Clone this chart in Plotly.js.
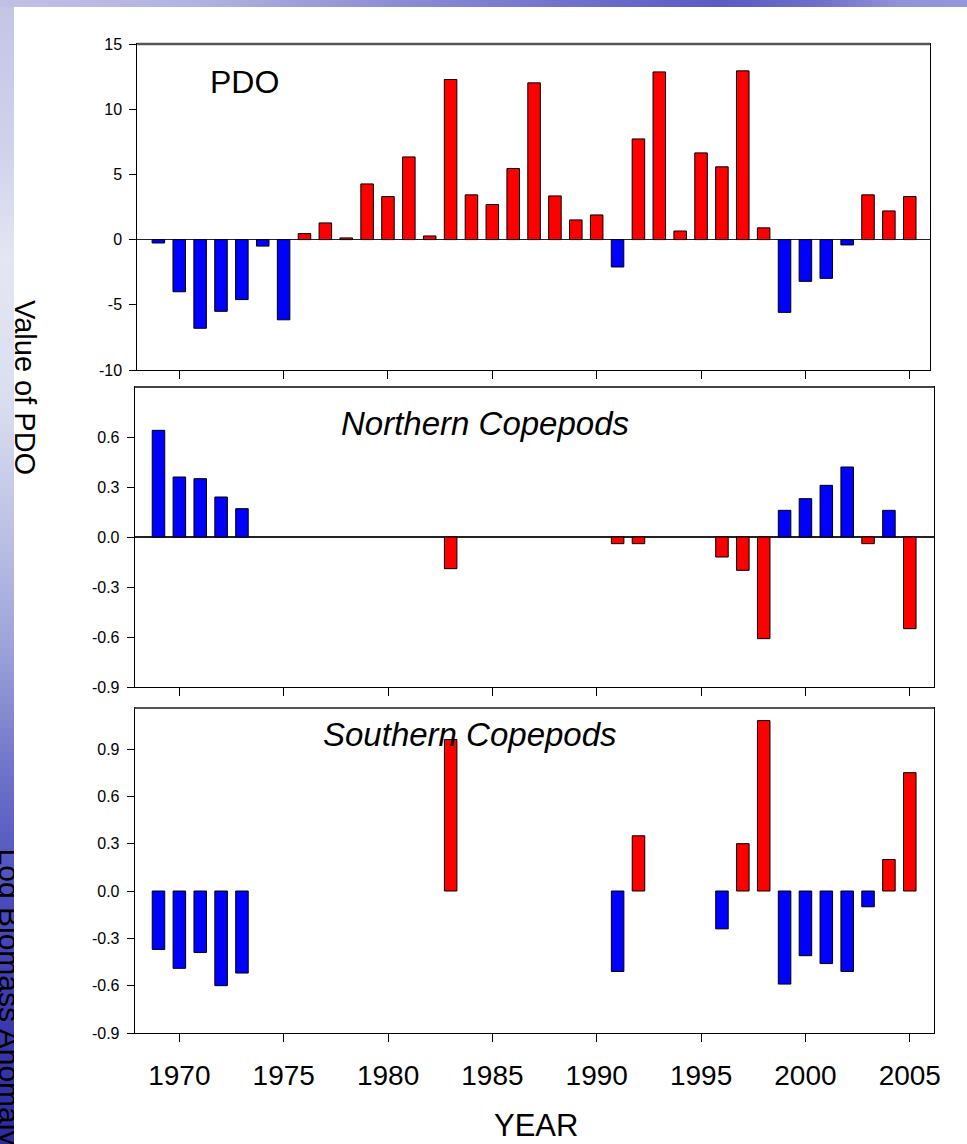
<!DOCTYPE html>
<html><head><meta charset="utf-8">
<script src="https://cdn.plot.ly/plotly-3.0.1.min.js"></script>
<style>html,body{margin:0;padding:0;background:#fff;overflow:hidden}#chart{width:967px;height:1144px}</style>
</head><body><div id="chart"></div>
<script>
// ---- data ----
const years = [1969,1970,1971,1972,1973,1974,1975,1976,1977,1978,1979,1980,1981,1982,1983,1984,1985,1986,1987,1988,1989,1990,1991,1992,1993,1994,1995,1996,1997,1998,1999,2000,2001,2002,2003,2004,2005];
const pdo = [-0.26,-4.0,-6.8,-5.5,-4.6,-0.5,-6.15,0.46,1.28,0.13,4.27,3.3,6.34,0.28,12.28,3.43,2.69,5.45,12.02,3.35,1.51,1.89,-2.1,7.72,12.86,0.66,6.65,5.58,12.94,0.9,-5.58,-3.2,-2.97,-0.41,3.43,2.2,3.3];
const northern = [0.64,0.36,0.35,0.24,0.17,null,null,null,null,null,null,null,null,null,-0.19,null,null,null,null,null,null,null,-0.04,-0.04,null,null,null,-0.12,-0.2,-0.61,0.16,0.23,0.31,0.42,-0.04,0.16,-0.55];
const southern = [-0.37,-0.49,-0.39,-0.6,-0.52,null,null,null,null,null,null,null,null,null,0.96,null,null,null,null,null,null,null,-0.51,0.35,null,null,null,-0.24,0.3,1.08,-0.59,-0.41,-0.46,-0.51,-0.1,0.2,0.75];
const xTickVals = [1970,1975,1980,1985,1990,1995,2000,2005];
const xTickText = ['1970','1975','1980','1985','1990','1995','2000','2005'];
const pdoTickVals = [-10,-5,0,5,10,15];
const pdoTickText = ['-10','-5','0','5','10','15'];
const northTickVals = [-0.9,-0.6,-0.3,0,0.3,0.6];
const northTickText = ['-0.9','-0.6','-0.3','0.0','0.3','0.6'];
const southTickVals = [-0.9,-0.6,-0.3,0,0.3,0.6,0.9];
const southTickText = ['-0.9','-0.6','-0.3','0.0','0.3','0.6','0.9'];

// ---- styling helpers ----
const W = 967, H = 1144;
const px = v => v / W;
const py = v => 1 - v / H;
const RED = '#ff0000', BLUE = '#0000ff';
const FONT = 'Liberation Sans, Arial, sans-serif';

function bar(y, xa, ya, posColor, negColor) {
  return {
    type: 'bar', x: years, y: y, xaxis: xa, yaxis: ya, width: 0.6,
    marker: { color: y.map(v => (v === null ? BLUE : (v >= 0 ? posColor : negColor))),
              line: { color: '#000', width: 1 } },
    hoverinfo: 'x+y', showlegend: false
  };
}
const traces = [
  bar(pdo, 'x', 'y', RED, BLUE),
  bar(northern, 'x2', 'y2', BLUE, RED),
  bar(southern, 'x3', 'y3', RED, BLUE)
];

function xAxis(dom, rng, anchor, labels) {
  return {
    domain: dom, range: rng, anchor: anchor, tickmode: 'array', tickvals: xTickVals, ticktext: xTickText,
    showticklabels: labels, ticks: 'outside', ticklen: 8, tickwidth: 1, tickcolor: '#000',
    showline: true, linecolor: '#000', linewidth: 1, mirror: true, showgrid: false, zeroline: false,
    ticklabelstandoff: 9,
    tickfont: { family: FONT, size: 28, color: '#000' }, fixedrange: true
  };
}
function yAxis(dom, rng, anchor, tv, tt, zl) {
  return {
    domain: dom, range: rng, anchor: anchor, tickmode: 'array', tickvals: tv, ticktext: tt,
    ticks: 'outside', ticklen: 7, tickwidth: 1, tickcolor: '#000',
    showline: true, linecolor: '#000', linewidth: 1, mirror: true, showgrid: false,
    zeroline: zl, zerolinecolor: '#222', zerolinewidth: 1.5,
    ticklabelstandoff: 4,
    tickfont: { family: FONT, size: 16, color: '#000' }, fixedrange: true
  };
}

// background slide decoration (gradient strips)
function lerpColor(stops, t) {
  for (let i = 0; i < stops.length - 1; i++) {
    const [a, ca] = stops[i], [b, cb] = stops[i + 1];
    if (t >= a && t <= b) {
      const f = (t - a) / (b - a);
      const c = ca.map((v, k) => Math.round(v + (cb[k] - v) * f));
      return `rgb(${c[0]},${c[1]},${c[2]})`;
    }
  }
  const c = stops[stops.length - 1][1];
  return `rgb(${c[0]},${c[1]},${c[2]})`;
}
const leftStops = [[0,[196,196,230]],[150,[208,210,236]],[260,[228,230,242]],[400,[218,222,240]],[550,[184,189,226]],[650,[156,162,216]],[780,[108,112,200]],[900,[74,76,188]],[1000,[60,60,176]],[1144,[42,42,160]]];
const topStops = [[0,[192,192,230]],[200,[178,178,224]],[400,[140,140,212]],[600,[108,108,204]],[720,[90,90,194]],[820,[112,112,202]],[900,[146,146,216]],[967,[150,150,220]]];
const shapes = [];
const STEP = 8;
for (let y = 0; y < H; y += STEP) {
  shapes.push({ type: 'rect', xref: 'paper', yref: 'paper', layer: 'below', x0: 0, x1: px(14), y0: py(Math.min(H, y + STEP)), y1: py(y), fillcolor: lerpColor(leftStops, y + STEP / 2), line: { width: 0 } });
}
for (let x = 0; x < W; x += STEP) {
  shapes.push({ type: 'rect', xref: 'paper', yref: 'paper', layer: 'below', x0: px(x), x1: px(Math.min(W, x + STEP)), y0: py(7), y1: 1, fillcolor: lerpColor(topStops, x + STEP / 2), line: { width: 0 } });
}
// partially hidden slide text
shapes.push({ type: 'rect', xref: 'paper', yref: 'paper', layer: 'below', x0: px(0), x1: px(24), y0: py(1158), y1: py(836), fillcolor: 'rgba(0,0,0,0)', line: { width: 0 },
  label: { text: 'Log Biomass Anomaly', textangle: 90, textposition: 'middle center', font: { family: FONT, size: 30, color: '#000' } } });
// white slide area covering the rest
shapes.push({ type: 'rect', xref: 'paper', yref: 'paper', layer: 'below', x0: px(14), x1: 1, y0: 0, y1: py(7), fillcolor: '#ffffff', line: { width: 0 } });
// slightly heavier grey top frame lines of each panel
shapes.push({ type: 'line', xref: 'paper', yref: 'paper', layer: 'above', x0: px(137.3), x1: px(930), y0: py(44), y1: py(44), line: { color: '#555', width: 2.5 } });
shapes.push({ type: 'line', xref: 'paper', yref: 'paper', layer: 'above', x0: px(134.7), x1: px(934), y0: py(387), y1: py(387), line: { color: '#444', width: 1.8 } });
shapes.push({ type: 'line', xref: 'paper', yref: 'paper', layer: 'above', x0: px(134.7), x1: px(934), y0: py(708), y1: py(708), line: { color: '#555', width: 1.8 } });

const annotations = [
  { text: 'PDO', xref: 'paper', yref: 'paper', x: px(244), y: py(82), xanchor: 'center', yanchor: 'middle', showarrow: false, font: { family: FONT, size: 32, color: '#000' } },
  { text: '<i>Northern Copepods</i>', xref: 'paper', yref: 'paper', x: px(485), y: py(423), xanchor: 'center', yanchor: 'middle', showarrow: false, font: { family: FONT, size: 33, color: '#000' } },
  { text: '<i>Southern Copepods</i>', xref: 'paper', yref: 'paper', x: px(470), y: py(734), xanchor: 'center', yanchor: 'middle', showarrow: false, font: { family: FONT, size: 33, color: '#000' } },
  { text: 'YEAR', xref: 'paper', yref: 'paper', x: px(536), y: py(1125), xanchor: 'center', yanchor: 'middle', showarrow: false, font: { family: FONT, size: 31, color: '#000' } },
  { text: 'Value of PDO', xref: 'paper', yref: 'paper', x: px(25), y: py(387), xanchor: 'center', yanchor: 'middle', textangle: 90, showarrow: false, font: { family: FONT, size: 29, color: '#000' } }
];

const layout = {
  width: W, height: H, margin: { l: 0, r: 0, t: 0, b: 0 },
  paper_bgcolor: '#ffffff', plot_bgcolor: '#ffffff',
  font: { family: FONT, color: '#000' },
  xaxis: xAxis([px(137.3), px(930)], [1967.99, 2005.97], 'y', false),
  yaxis: yAxis([py(370), py(44)], [-10, 15], 'x', pdoTickVals, pdoTickText, true),
  xaxis2: xAxis([px(134.7), px(934)], [1967.86, 2006.16], 'y2', false),
  yaxis2: yAxis([py(687), py(387)], [-0.9, 0.9], 'x2', northTickVals, northTickText, true),
  xaxis3: xAxis([px(134.7), px(934)], [1967.86, 2006.16], 'y3', true),
  yaxis3: yAxis([py(1033), py(708)], [-0.9, 1.16], 'x3', southTickVals, southTickText, false),
  shapes: shapes, annotations: annotations, showlegend: false
};
Plotly.newPlot('chart', traces, layout, { displayModeBar: false, staticPlot: true });
</script></body></html>
